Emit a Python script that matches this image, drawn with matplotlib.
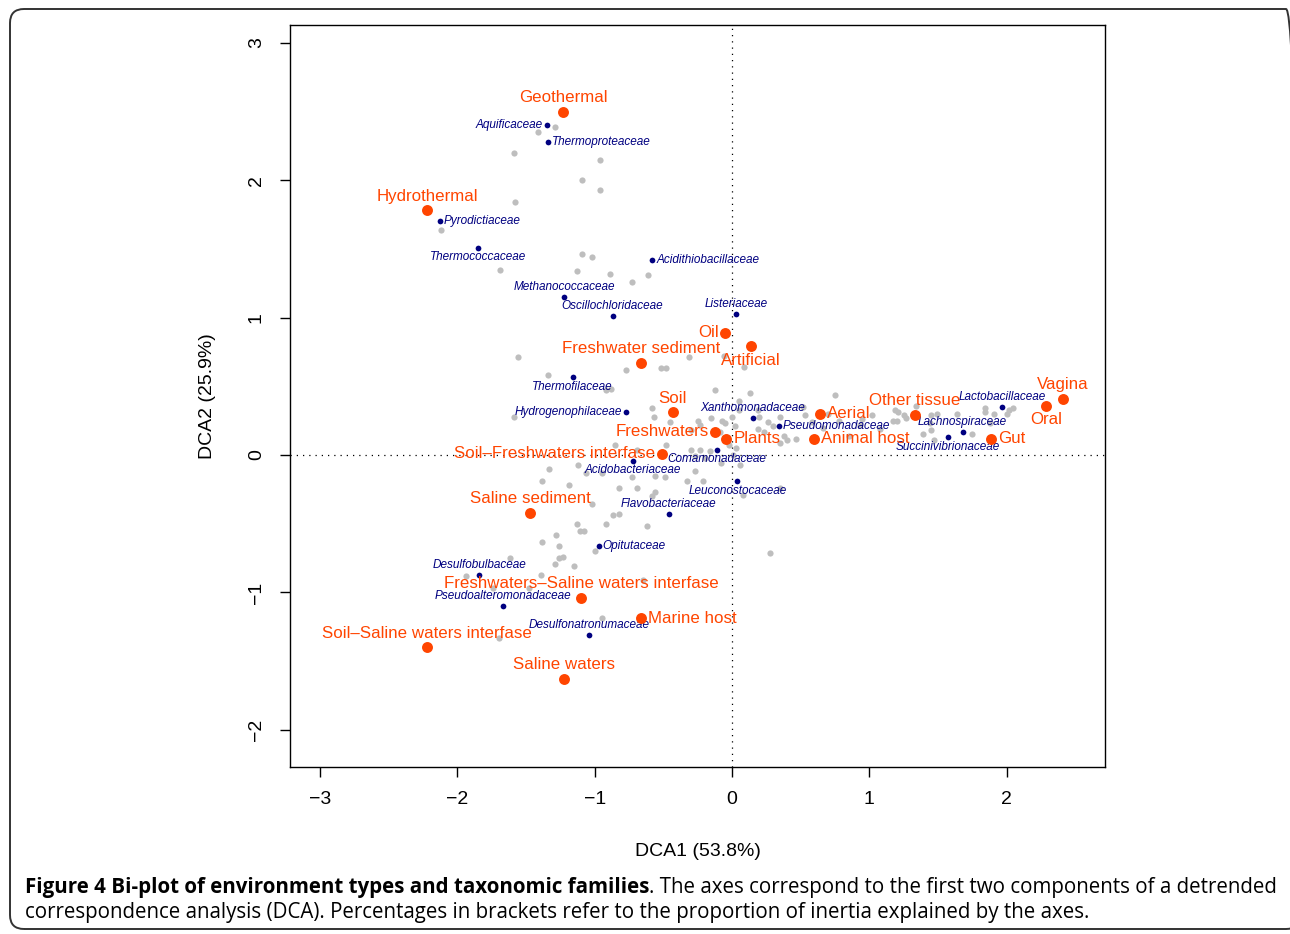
import matplotlib
matplotlib.use("Agg")
import matplotlib.pyplot as plt
from matplotlib.patches import FancyBboxPatch
from matplotlib.transforms import IdentityTransform

plt.rcParams['font.family'] = ['Liberation Sans', 'DejaVu Sans']

# Environment types (orange)
env_names = ["Geothermal", "Hydrothermal", "Oil", "Artificial", "Freshwater sediment",
             "Soil", "Freshwaters", "Plants", "Soil\u2013Freshwaters interfase", "Aerial",
             "Animal host", "Other tissue", "Gut", "Oral", "Vagina", "Saline sediment",
             "Freshwaters\u2013Saline waters interfase", "Marine host",
             "Soil\u2013Saline waters interfase", "Saline waters"]
env_x = [-1.23, -2.22, -0.05, 0.14, -0.66, -0.43, -0.12, -0.04, -0.51, 0.64,
         0.60, 1.33, 1.89, 2.29, 2.41, -1.47, -1.10, -0.66, -2.22, -1.22]
env_y = [2.50, 1.78, 0.89, 0.79, 0.67, 0.31, 0.17, 0.12, 0.01, 0.30,
         0.12, 0.29, 0.12, 0.36, 0.41, -0.42, -1.04, -1.19, -1.40, -1.63]

# Taxonomic families (navy)
fam_names = ["Aquificaceae", "Thermoproteaceae", "Pyrodictiaceae", "Thermococcaceae",
             "Acidithiobacillaceae", "Methanococcaceae", "Oscillochloridaceae", "Listeriaceae",
             "Thermofilaceae", "Hydrogenophilaceae", "Xanthomonadaceae", "Pseudomonadaceae",
             "Comamonadaceae", "Acidobacteriaceae", "Leuconostocaceae", "Flavobacteriaceae",
             "Opitutaceae", "Desulfobulbaceae", "Pseudoalteromonadaceae", "Desulfonatronumaceae",
             "Lactobacillaceae", "Lachnospiraceae", "Succinivibrionaceae"]
fam_x = [-1.35, -1.34, -2.13, -1.85, -0.58, -1.22, -0.87, 0.03, -1.16, -0.77, 0.15, 0.34,
         -0.11, -0.72, 0.04, -0.46, -0.97, -1.84, -1.67, -1.04, 1.97, 1.68, 1.57]
fam_y = [2.40, 2.28, 1.70, 1.51, 1.42, 1.15, 1.01, 1.03, 0.57, 0.31, 0.27, 0.21,
         0.04, -0.04, -0.19, -0.43, -0.66, -0.87, -1.10, -1.31, 0.35, 0.17, 0.13]

# Other families (grey, unlabelled)
other_x = [-1.29, -1.41, -1.59, -0.96, -1.09, -0.96, -1.58, -2.12, -1.69, -1.09, -1.02, -1.13,
           -0.89, -0.73, -0.61,
           -1.56, -0.77, -0.52, -0.48, -0.31, -0.06, 0.09, -1.34, -0.92, -0.88, -1.59, -0.58,
           -0.57, -0.45, -0.25, -0.12, 0.13, 0.75, 0.05,
           -0.85, -0.48, -0.69, -0.30, -0.23, -0.16, -0.27, -0.20,
           -1.12, -1.33, -1.06, -0.95, -0.73, -0.56, -0.49, -0.27, 0.06, -0.08, -1.38, -1.19,
           -0.33, -0.21, -0.82, -0.69, -0.58, -0.56, -1.02, -0.87, -0.82, -1.13, -1.11, -1.08,
           -0.92, -0.62, -1.28, -1.38, -1.26, 0.28, -1.00, -1.62, -1.23, -1.26, -1.29, -1.15,
           -1.39, -1.94, -1.74, -1.48, -0.65, -0.95, -1.70, 0.08, 0.35,
           -0.07, -0.05, 0.00, 0.02, 0.20, 0.26, 0.30, 0.35, 0.19, 0.23, 0.53, 0.52, 0.58,
           0.47, 0.35, 0.40, -0.09, -0.02, 0.03, 0.01, 0.05, 0.19, -0.15, 0.38, -0.23, -0.30,
           1.02, 0.95, 0.93, 1.08, 1.17, 1.21, 1.19, 1.20, 1.25, 1.27, 1.34, 1.45, 1.49, 1.44,
           1.45, 1.64, 1.39, 1.47, 1.75, 1.84, 1.84, 1.91, 1.88, 2.00, 2.02, 2.05, 0.70, 0.78,
           0.85, 0.66]
other_y = [2.39, 2.35, 2.20, 2.15, 2.00, 1.93, 1.84, 1.64, 1.35, 1.46, 1.44, 1.34,
           1.32, 1.26, 1.31,
           0.71, 0.62, 0.63, 0.63, 0.71, 0.72, 0.64, 0.58, 0.47, 0.48, 0.28, 0.34,
           0.28, 0.24, 0.25, 0.47, 0.45, 0.44, 0.39,
           0.07, 0.07, 0.04, 0.04, 0.04, 0.03, -0.01, -0.02,
           -0.07, -0.10, -0.13, -0.13, -0.16, -0.15, -0.16, -0.12, -0.07, -0.06, -0.19, -0.22,
           -0.19, -0.19, -0.24, -0.24, -0.30, -0.27, -0.36, -0.44, -0.43, -0.50, -0.55, -0.55,
           -0.50, -0.52, -0.58, -0.63, -0.66, -0.71, -0.70, -0.75, -0.74, -0.75, -0.79, -0.81,
           -0.87, -0.88, -0.97, -0.97, -0.91, -1.19, -1.33, -0.29, -0.24,
           0.25, 0.23, 0.28, 0.21, 0.28, 0.24, 0.21, 0.28, 0.19, 0.17, 0.29, 0.35, 0.24,
           0.12, 0.09, 0.11, 0.17, 0.07, 0.05, 0.00, 0.33, 0.33, 0.27, 0.14, 0.22, 0.18,
           0.29, 0.26, 0.22, 0.19, 0.25, 0.31, 0.33, 0.25, 0.29, 0.27, 0.36, 0.29, 0.30, 0.23,
           0.18, 0.30, 0.15, 0.11, 0.15, 0.34, 0.31, 0.30, 0.23, 0.30, 0.33, 0.34, 0.30, 0.25,
           0.14, 0.20]

x_ticks = [-3, -2, -1, 0, 1, 2]
y_ticks = [-2, -1, 0, 1, 2, 3]
x_title = "DCA1 (53.8%)"
y_title = "DCA2 (25.9%)"
caption_bold = "Figure 4 Bi-plot of environment types and taxonomic families"
caption_line1 = ". The axes correspond to the first two components of a detrended"
caption_line2 = ("correspondence analysis (DCA). Percentages in brackets refer to the "
                 "proportion of inertia explained by the axes.")

# which side of the point each label sits on (default above)
env_side = {"Oil": "left", "Artificial": "below", "Freshwaters": "left", "Plants": "right",
            "Soil\u2013Freshwaters interfase": "left", "Aerial": "right",
            "Animal host": "right", "Gut": "right", "Oral": "below", "Marine host": "right"}
fam_side = {"Aquificaceae": "left", "Thermoproteaceae": "right", "Pyrodictiaceae": "right",
            "Thermococcaceae": "below", "Acidithiobacillaceae": "right",
            "Thermofilaceae": "below", "Hydrogenophilaceae": "left",
            "Pseudomonadaceae": "right", "Comamonadaceae": "below",
            "Acidobacteriaceae": "below", "Leuconostocaceae": "below",
            "Opitutaceae": "right", "Succinivibrionaceae": "below"}

ORANGE = "#ff4500"
NAVY = "#000080"
GREY = "#bebebe"


def put_label(ax, x, y, txt, side, off, **kw):
    if side == "left":
        ax.annotate(txt, (x, y), xytext=(-off, 0), textcoords="offset points",
                    ha="right", va="center", **kw)
    elif side == "right":
        ax.annotate(txt, (x, y), xytext=(off, 0), textcoords="offset points",
                    ha="left", va="center", **kw)
    elif side == "below":
        ax.annotate(txt, (x, y), xytext=(0, -off), textcoords="offset points",
                    ha="center", va="top", **kw)
    else:
        ax.annotate(txt, (x, y), xytext=(0, off), textcoords="offset points",
                    ha="center", va="bottom", **kw)


W, H = 1290, 934
fig = plt.figure(figsize=(W / 100, H / 100), dpi=100)

# rounded frame around the figure
frame = FancyBboxPatch((10, 5), 1290, 920, boxstyle="round,pad=0,rounding_size=14",
                       transform=IdentityTransform(), facecolor="none",
                       edgecolor="#333333", linewidth=1.4)
fig.patches.append(frame)

ax = fig.add_axes([290 / W, 1 - 767 / H, (1105 - 290) / W, (767 - 25) / H])
ax.set_xlim(-3.219, 2.717)
ax.set_ylim(-2.271, 3.130)

ax.axhline(0, color="black", lw=0.9, ls=(0, (1, 4)), zorder=1)
ax.axvline(0, color="black", lw=0.9, ls=(0, (1, 4)), zorder=1)

ax.scatter(other_x, other_y, s=20, color=GREY, linewidths=0, zorder=2)

ax.scatter(fam_x, fam_y, s=17, color=NAVY, linewidths=0, zorder=3)
for n, x, y in zip(fam_names, fam_x, fam_y):
    put_label(ax, x, y, n, fam_side.get(n, "above"), 2.8,
              fontsize=8.5, style="italic", color=NAVY, zorder=4)

ax.scatter(env_x, env_y, s=62, color=ORANGE, linewidths=0, zorder=5)
for n, x, y in zip(env_names, env_x, env_y):
    put_label(ax, x, y, n, env_side.get(n, "above"), 4.8,
              fontsize=12.2, color=ORANGE, zorder=6)

ax.set_xticks(x_ticks)
ax.set_yticks(y_ticks)
ax.tick_params(direction="out", length=7, width=1, labelsize=14)
ax.tick_params(axis="x", pad=10)
ax.tick_params(axis="y", pad=11)
for lab in ax.get_yticklabels():
    lab.set_rotation(90)
    lab.set_va("center")
for sp in ax.spines.values():
    sp.set_linewidth(1)

fig.text(697.5 / W, 1 - 852 / H, x_title, ha="center", va="center", fontsize=14)
fig.text(207 / W, 1 - 396 / H, y_title, ha="center", va="center", fontsize=14, rotation=90)

# caption, first line stretched to the frame width
cap_font = ['Open Sans', 'DejaVu Sans']
fs = 12
renderer = fig.canvas.get_renderer()
t1 = fig.text(25 / W, 1 - 893 / H, caption_bold, fontsize=fs, fontweight="bold",
              family=cap_font, va="baseline")
t2 = fig.text(0, 1 - 893 / H, caption_line1, fontsize=fs, family=cap_font, va="baseline")
w1 = t1.get_window_extent(renderer).width
w2 = t2.get_window_extent(renderer).width
fs = fs * (1276 - 25) / (w1 + w2)
t1.set_fontsize(fs)
t2.set_fontsize(fs)
w1 = t1.get_window_extent(renderer).width
t2.set_x((25 + w1) / W)
fig.text(25 / W, 1 - 918 / H, caption_line2, fontsize=fs, family=cap_font, va="baseline")

fig.savefig("out.png", dpi=100)
